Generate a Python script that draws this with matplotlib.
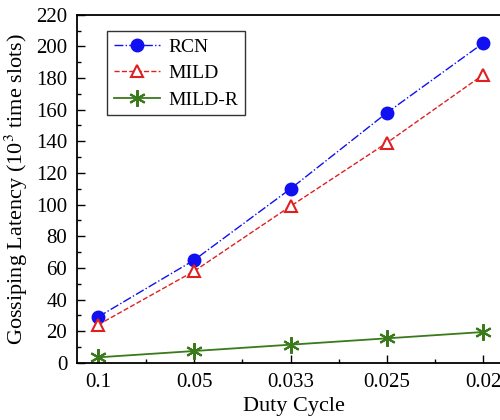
import matplotlib
matplotlib.use('Agg')
import matplotlib.pyplot as plt
from matplotlib.ticker import MultipleLocator

plt.rcParams['font.family'] = ['Liberation Serif', 'DejaVu Serif']
plt.rcParams['mathtext.fontset'] = 'stix'

# data
duty_labels = ['0.1', '0.05', '0.033', '0.025', '0.02']
rcn = [29, 65, 110, 158, 202]
mild = [24, 58, 99, 139, 182]
mild_r = [3.5, 7.5, 11.5, 15.5, 19.5]

x = list(range(len(duty_labels)))

fig = plt.figure(figsize=(5, 4.2), dpi=100)
ax = fig.add_axes([0.154, 0.136, 0.868, 0.829])

ax.plot(x, rcn, color='#1010f0', linestyle='-.', linewidth=1, marker='o',
        markersize=9, label='RCN')
ax.plot(x, mild, color='#e02020', linestyle='--', linewidth=1, marker='^',
        markersize=9, markerfacecolor='white', markeredgewidth=1.5, label='MILD')
ax.plot(x, mild_r, color='#3a7a1a', linestyle='-', linewidth=1.3,
        marker=(6, 2, 0), markersize=12, markeredgewidth=1.5, label='MILD-R')

ax.set_xlim(-0.218, 4.29)
ax.set_ylim(0, 220)
ax.set_xticks(x)
ax.set_xticklabels(duty_labels)
ax.xaxis.set_minor_locator(MultipleLocator(0.5))
ax.yaxis.set_major_locator(MultipleLocator(20))
ax.yaxis.set_minor_locator(MultipleLocator(10))
ax.tick_params(which='both', direction='in', labelsize=15, width=1)
ax.tick_params(which='major', length=6, pad=7)
ax.tick_params(which='minor', length=3)
for s in ax.spines.values():
    s.set_linewidth(1.3)

ax.set_xlabel('Duty Cycle', fontsize=16, labelpad=4)
ax.set_ylabel('Gossiping Latency (10$^3$ time slots)', fontsize=16, labelpad=4)

leg = ax.legend(loc='upper left', bbox_to_anchor=(0.069, 0.952), fontsize=14,
                frameon=True, fancybox=False, edgecolor='black',
                handlelength=2.4, handletextpad=0.4, borderpad=0.35,
                labelspacing=0.45, borderaxespad=0)
leg.get_frame().set_linewidth(1)

fig.savefig('out.png', dpi=100)
